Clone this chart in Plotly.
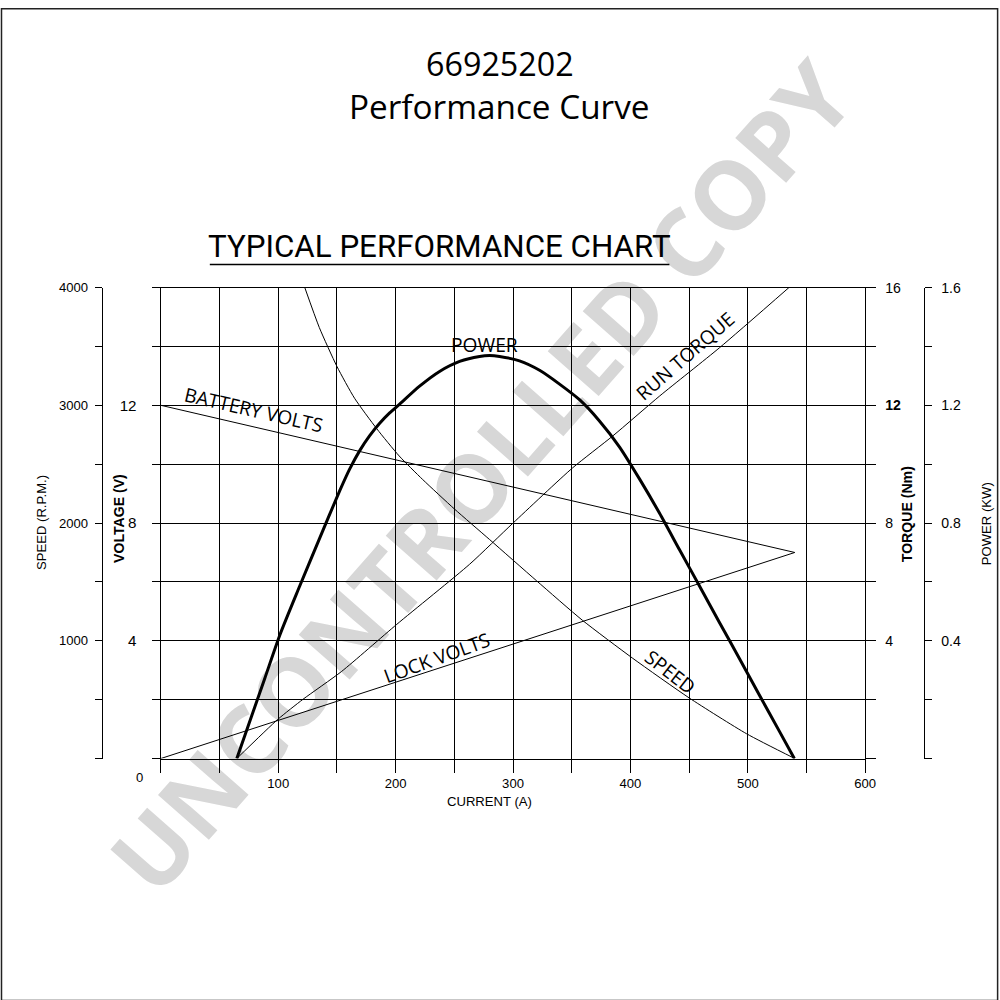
import math
import plotly.graph_objects as go

# ---------------- data ----------------
current_ticks = [0, 50, 100, 150, 200, 250, 300, 350, 400, 450, 500, 550, 600]
current_ticktext = ["", "", "100", "", "200", "", "300", "", "400", "", "500", "", "600"]

speed_ticks = [0, 500, 1000, 1500, 2000, 2500, 3000, 3500, 4000]
speed_ticktext = ["", "", "1000", "", "2000", "", "3000", "", "4000"]

volt_ticks = [0, 2, 4, 6, 8, 10, 12, 14, 16]
volt_ticktext = ["", "", "4", "", "8", "", "12", "", ""]

torque_ticks = [0, 2, 4, 6, 8, 10, 12, 14, 16]
torque_ticktext = ["", "", "4", "", "8", "", "<b>12</b>", "", "16"]

power_ticks = [0, 0.2, 0.4, 0.6, 0.8, 1.0, 1.2, 1.4, 1.6]
power_ticktext = ["", "", "0.4", "", "0.8", "", "1.2", "", "1.6"]

battery_current = [0, 540]
battery_volts = [12.0, 7.0]

lock_current = [0, 540]
lock_volts = [0.0, 7.0]

speed_current = [122.6, 135, 150, 165, 184, 203, 223, 250, 280, 320, 359, 402, 450, 499, 540]
speed_rpm = [4000, 3660, 3330, 3060, 2800, 2570, 2370, 2120, 1860, 1510, 1175, 851, 515, 210, 0]

torque_current = [64.7, 99.6, 121, 154, 201, 263, 300, 350.6, 385, 425, 476, 535]
torque_nm = [0, 1.33, 2.01, 2.96, 4.56, 6.60, 8.0, 9.87, 10.96, 12.32, 13.96, 16.0]

power_current = [64.7, 75.7, 88.5, 101.3, 118.3, 135.3, 152.3, 160.8, 169.4, 177.9, 186.4,
                 194.9, 203.4, 220.4, 237.4, 254.5, 271.5, 280.0, 288.5, 305.5, 322.6,
                 339.6, 356.6, 373.6, 390.6, 407.7, 424.7, 441.7, 458.7, 475.7, 492.8,
                 509.8, 526.8, 539.6]
power_kw = [0.0, 0.126, 0.272, 0.419, 0.586, 0.749, 0.909, 0.983, 1.046, 1.097, 1.139,
            1.174, 1.204, 1.265, 1.315, 1.349, 1.366, 1.369, 1.366, 1.351, 1.319,
            1.272, 1.219, 1.147, 1.059, 0.950, 0.834, 0.710, 0.587, 0.463, 0.340,
            0.216, 0.093, 0.0]

# ---------------- page geometry ----------------
# layout positions are given in picture pixels; S / OY account for how the page is photographed
W, H = 1011, 1002
S, OY = 0.99, 8.0

def fx(X):
    return X / S / W

def fy(Y):
    return 1 - (Y - OY) / S / H

def sz(v):
    return round(v / S, 1)

NARROW = "Liberation Sans Narrow, Liberation Sans, Arial, sans-serif"
MAIN = "Open Sans, Noto Sans, sans-serif"

def nfont(size, **kw):
    d = dict(size=sz(size), family=NARROW, color="black")
    d.update(kw)
    return d

fig = go.Figure()
thin = dict(color="black", width=1)

fig.add_trace(go.Scatter(x=battery_current, y=battery_volts, mode="lines", line=thin,
                         yaxis="y", name="BATTERY VOLTS", hoverinfo="skip"))
fig.add_trace(go.Scatter(x=lock_current, y=lock_volts, mode="lines", line=thin,
                         yaxis="y", name="LOCK VOLTS", hoverinfo="skip"))
fig.add_trace(go.Scatter(x=speed_current, y=speed_rpm, mode="lines",
                         line=dict(color="black", width=1, shape="spline", smoothing=0.6),
                         yaxis="y3", name="SPEED", hoverinfo="skip"))
fig.add_trace(go.Scatter(x=torque_current, y=torque_nm, mode="lines",
                         line=dict(color="black", width=1, shape="spline", smoothing=0.6),
                         yaxis="y2", name="RUN TORQUE", hoverinfo="skip"))
fig.add_trace(go.Scatter(x=power_current, y=power_kw, mode="lines",
                         line=dict(color="black", width=3, shape="spline", smoothing=0.7),
                         yaxis="y4", name="POWER", hoverinfo="skip"))

XD = [fx(161), fx(866)]
YD = [fy(757), fy(287)]
GW = 1.3

fig.update_layout(
    width=W, height=H,
    margin=dict(l=0, r=0, t=0, b=0),
    paper_bgcolor="white", plot_bgcolor="rgba(0,0,0,0)",
    showlegend=False,
    font=dict(family=NARROW, color="black"),
    xaxis=dict(domain=XD, range=[0, 600], tickmode="array", tickvals=current_ticks,
               ticktext=current_ticktext, ticks="outside", ticklen=sz(13), tickwidth=GW,
               tickcolor="black", showgrid=True, gridcolor="black", gridwidth=GW,
               showline=True, linecolor="black", linewidth=GW, mirror=True,
               zeroline=False, tickfont=nfont(13), anchor="y", fixedrange=True),
    yaxis=dict(domain=YD, range=[0, 16], tickmode="array", tickvals=volt_ticks,
               ticktext=volt_ticktext, ticks="outside", ticklen=sz(8), tickwidth=GW,
               tickcolor="black", showgrid=True, gridcolor="black", gridwidth=GW,
               showline=True, linecolor="black", linewidth=GW, mirror=True,
               zeroline=False, tickfont=nfont(15), anchor="x",
               side="left", fixedrange=True, ticklabelstandoff=12),
    yaxis2=dict(range=[0, 16], overlaying="y", side="right", anchor="x",
                tickmode="array", tickvals=torque_ticks, ticktext=torque_ticktext,
                ticks="outside", ticklen=sz(10), tickwidth=GW, tickcolor="black",
                showgrid=False, zeroline=False, showline=False,
                tickfont=nfont(14), fixedrange=True, ticklabelstandoff=6),
    yaxis3=dict(range=[0, 4000], overlaying="y", side="left", anchor="free",
                position=fx(102), tickmode="array", tickvals=speed_ticks,
                ticktext=speed_ticktext, ticks="outside", ticklen=sz(7), tickwidth=GW,
                tickcolor="black", showgrid=False, zeroline=False, showline=True,
                linecolor="black", linewidth=GW, tickfont=nfont(13),
                fixedrange=True, ticklabelstandoff=4),
    yaxis4=dict(range=[0, 1.6], overlaying="y", side="right", anchor="free",
                position=fx(925), tickmode="array", tickvals=power_ticks,
                ticktext=power_ticktext, ticks="outside", ticklen=sz(7), tickwidth=GW,
                tickcolor="black", showgrid=False, zeroline=False, showline=True,
                linecolor="black", linewidth=GW, tickfont=nfont(14),
                fixedrange=True, ticklabelstandoff=6),
)

# curve labels: (text, centre x px, centre y px, angle deg clockwise, box w, box h)
curve_labels = [
    ("POWER", 485, 344, 0, 80, 20),
    ("BATTERY VOLTS", 254, 409, 13, 152, 19),
    ("LOCK VOLTS", 437, 656, -20, 116, 19),
    ("RUN TORQUE", 686, 355, -41, 120, 19),
    ("SPEED", 671, 670, 38, 64, 19),
]

annotations = [
    dict(text="66925202", x=fx(500), y=fy(63), font=dict(size=sz(32), family=MAIN)),
    dict(text="Performance Curve", x=fx(500), y=fy(106), font=dict(size=sz(33), family=MAIN)),
    dict(text="TYPICAL PERFORMANCE CHART", x=fx(440), y=fy(246),
         font=dict(size=sz(31), family="Liberation Sans Narrow, Roboto, sans-serif")),
    dict(text="0", x=fx(140), y=fy(776), font=nfont(13)),
    dict(text="CURRENT (A)", x=fx(490), y=fy(800), font=nfont(13)),
    dict(text="SPEED (R.P.M.)", x=fx(41), y=fy(521), textangle=-90, font=nfont(13)),
    dict(text="<b>VOLTAGE (V)</b>", x=fx(119), y=fy(517), textangle=-90, font=nfont(14)),
    dict(text="<b>TORQUE (Nm)</b>", x=fx(908), y=fy(513), textangle=-90, font=nfont(14)),
    dict(text="POWER (KW)", x=fx(987), y=fy(523), textangle=-90, font=nfont(13)),
]
for (t, cx, cy, ang, w, h) in curve_labels:
    annotations.append(dict(text=t, x=fx(cx), y=fy(cy), textangle=ang,
                            font=dict(size=sz(19), family=MAIN)))
for a in annotations:
    a.update(xref="paper", yref="paper", showarrow=False, xanchor="center", yanchor="middle")
fig.update_layout(annotations=annotations)


def rot_box(cx, cy, ang, w, h):
    t = math.radians(ang)
    pts = []
    for dx, dy in [(-w / 2, -h / 2), (w / 2, -h / 2), (w / 2, h / 2), (-w / 2, h / 2)]:
        x = cx + dx * math.cos(t) - dy * math.sin(t)
        y = cy + dx * math.sin(t) + dy * math.cos(t)
        pts.append((fx(x), fy(y)))
    return "M " + " L ".join(f"{x:.4f},{y:.4f}" for x, y in pts) + " Z"


shapes = [
    # watermark, drawn below the grid
    dict(type="rect", xref="paper", yref="paper", x0=fx(475), x1=fx(495), y0=fy(489), y1=fy(469),
         line=dict(width=0), fillcolor="rgba(0,0,0,0)", layer="below",
         label=dict(text="<b>UNCONTROLLED COPY</b>", textangle=-48.7, textposition="middle center",
                    font=dict(size=sz(94), family=MAIN, color="#d7d7d7"))),
    # underline of heading
    dict(type="line", xref="paper", yref="paper", x0=fx(210), x1=fx(670), y0=fy(264), y1=fy(264),
         line=dict(color="black", width=1.5)),
    # outer frame
    dict(type="rect", xref="paper", yref="paper", x0=fx(1.5), x1=fx(998.5), y0=fy(998.5),
         y1=0.9992, line=dict(color="#222222", width=1.5), fillcolor="rgba(0,0,0,0)"),
]
# white boxes behind curve labels: hide grid lines, keep curves visible
for (t, cx, cy, ang, w, h) in curve_labels:
    shapes.append(dict(type="path", xref="paper", yref="paper", path=rot_box(cx, cy, ang, w, h),
                       fillcolor="white", line=dict(width=0), layer="between"))
fig.update_layout(shapes=shapes)

post = ("document.documentElement.style.margin='0';"
        "document.body.style.margin='0';document.body.style.overflow='hidden';"
        "var d=document.querySelector('.plotly-graph-div');"
        "if(d){d.style.position='absolute';d.style.left='0px';d.style.top='0px';}")
fig.write_html("out.html", config={"displayModeBar": False}, post_script=post)
